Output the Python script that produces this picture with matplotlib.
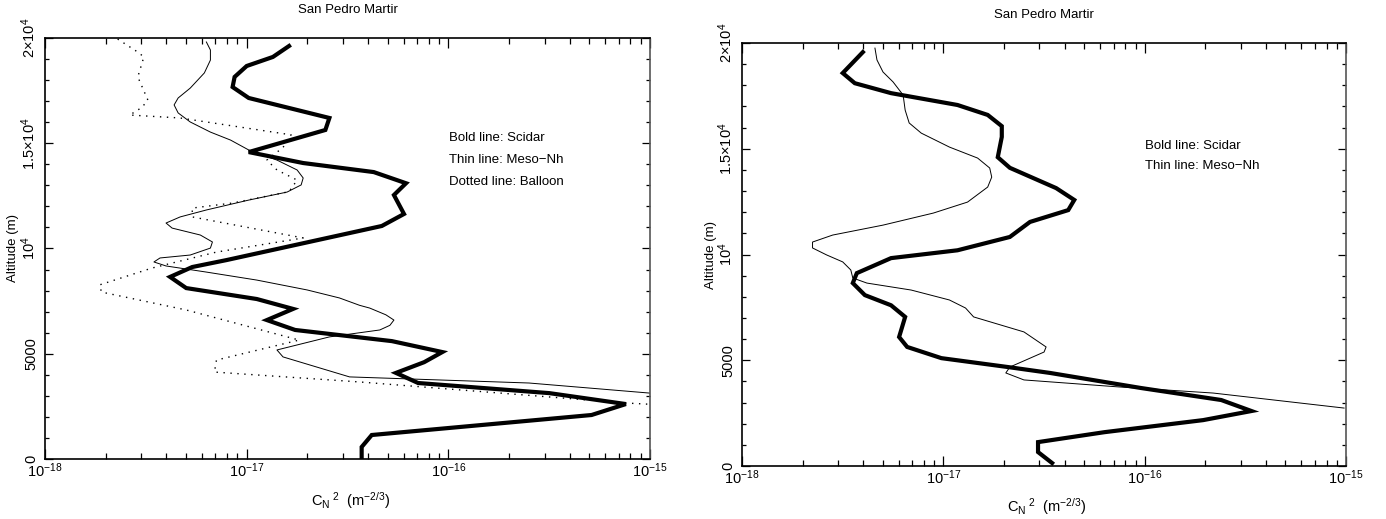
# Cn2 profiles over San Pedro Martir: Scidar vs Meso-Nh (vs balloon)
import numpy as np
import matplotlib
matplotlib.use('Agg')
import matplotlib.pyplot as plt
from matplotlib.ticker import FixedLocator, FixedFormatter, LogLocator, MultipleLocator, NullFormatter

plt.rcParams['font.family'] = 'Liberation Sans'
plt.rcParams['mathtext.fontset'] = 'custom'
plt.rcParams['mathtext.rm'] = 'Liberation Sans'
plt.rcParams['mathtext.it'] = 'Liberation Sans:italic'

# Left night: altitude (km) and log10(Cn2)
left_scidar_alt = [19.62, 19.1, 18.67, 18.15, 17.67, 17.15, 16.2, 15.63, 14.58, 14.06, 13.63, 13.1,
                   12.54, 11.64, 11.07, 9.45, 9.12, 8.65, 8.12, 7.6, 7.13, 6.6, 6.13, 5.6, 5.08,
                   4.6, 4.09, 3.61, 3.13, 2.61, 2.09, 1.14, 0.57, 0.05]
left_scidar_log = [-16.79, -16.87, -17.0, -17.06, -17.07, -16.99, -16.59, -16.61, -16.99, -16.72, -16.37, -16.21,
                   -16.27, -16.22, -16.33, -17.10, -17.27, -17.38, -17.30, -16.95, -16.77, -16.90, -16.76, -16.28, -16.03,
                   -16.12, -16.26, -16.15, -15.50, -15.12, -15.29, -16.38, -16.43, -16.43]

left_meso_alt = [19.81, 19.43, 18.95, 18.34, 17.62, 17.15, 16.82, 16.44, 16.01, 15.53, 15.15, 14.68, 14.2, 13.73,
                 13.35, 13.02, 12.68, 12.3, 11.83, 11.5, 11.21, 10.97, 10.64, 10.31, 10.02, 9.69, 9.55, 9.36,
                 9.17, 8.88, 8.5, 8.03, 7.65, 7.3, 7.17, 6.85, 6.6, 6.35, 6.13, 5.8, 5.18, 4.85, 3.9, 3.61, 3.13, 2.9]
left_meso_log = [-17.20, -17.18, -17.18, -17.21, -17.28, -17.34, -17.36, -17.34, -17.28, -17.18, -17.08, -16.99, -16.85, -16.75,
                 -16.72, -16.73, -16.80, -16.99, -17.20, -17.33, -17.40, -17.37, -17.23, -17.17, -17.18, -17.28, -17.43, -17.46,
                 -17.40, -17.20, -16.95, -16.70, -16.54, -16.44, -16.39, -16.31, -16.27, -16.29, -16.34, -16.59, -16.85, -16.82,
                 -16.49, -15.60, -15.0, -14.85]

left_balloon_alt = [19.95, 19.33, 19.1, 18.15, 17.05, 16.7, 16.34, 16.2, 15.4, 14.8, 14.2, 13.73, 13.25, 12.7,
                    12.16, 11.92, 11.5, 10.5, 9.83, 9.07, 8.27, 7.93, 7.08, 5.65, 4.7, 4.13, 3.66, 2.66, 2.55]
left_balloon_log = [-17.64, -17.54, -17.51, -17.54, -17.49, -17.52, -17.58, -17.33, -16.78, -16.82, -16.90, -16.85, -16.75, -16.79,
                    -17.07, -17.27, -17.27, -16.72, -17.15, -17.47, -17.73, -17.72, -17.30, -16.74, -17.15, -17.16, -16.44, -15.12, -14.9]

# Right night
right_scidar_alt = [19.57, 18.58, 18.1, 17.63, 17.07, 16.6, 16.07, 15.56, 14.6, 14.1, 13.14, 12.58, 12.1, 11.54,
                    10.83, 10.2, 9.83, 9.12, 8.65, 8.08, 7.6, 7.05, 6.1, 5.63, 5.1, 4.68, 4.4, 3.69, 3.12,
                    2.6, 2.17, 1.6, 1.13, 0.66, 0.14]
right_scidar_log = [-17.40, -17.50, -17.44, -17.26, -16.93, -16.78, -16.71, -16.71, -16.73, -16.67, -16.44, -16.35, -16.38, -16.57,
                    -16.67, -16.93, -17.26, -17.43, -17.45, -17.39, -17.26, -17.19, -17.22, -17.18, -17.01, -16.68, -16.47, -16.02, -15.62,
                    -15.47, -15.71, -16.20, -16.53, -16.53, -16.46]

right_meso_alt = [19.76, 19.2, 18.63, 18.16, 17.54, 16.83, 16.22, 15.74, 15.08, 14.56, 14.09, 13.66, 13.19, 12.48,
                  11.96, 11.39, 10.92, 10.59, 10.31, 9.98, 9.65, 9.27, 8.89, 8.65, 8.32, 7.85, 7.47, 7.05, 6.34,
                  5.63, 5.39, 4.68, 4.4, 4.07, 3.74, 3.45, 2.74]
right_meso_log = [-17.34, -17.33, -17.30, -17.25, -17.20, -17.19, -17.17, -17.11, -16.97, -16.83, -16.77, -16.76, -16.78, -16.88,
                  -17.05, -17.30, -17.55, -17.65, -17.65, -17.58, -17.50, -17.46, -17.45, -17.38, -17.16, -16.97, -16.89, -16.85, -16.60,
                  -16.49, -16.50, -16.67, -16.69, -16.60, -16.13, -15.66, -15.01]

x_ticks = [1e-18, 1e-17, 1e-16, 1e-15]
y_ticks = [0, 5000, 10000, 15000, 20000]
y_labels = ['0', '5000', r'$10^4$', r'$1.5{\times}10^4$', r'$2{\times}10^4$']
title = 'San Pedro Martir'


def setup(ax, xlab_y, ylab_x):
    ax.set_xscale('log')
    ax.set_xlim(1e-18, 1e-15)
    ax.set_ylim(0, 20000)
    ax.xaxis.set_major_locator(FixedLocator(x_ticks))
    ax.xaxis.set_minor_locator(LogLocator(base=10, subs=np.arange(2, 10), numticks=20))
    ax.xaxis.set_minor_formatter(NullFormatter())
    ax.yaxis.set_major_locator(FixedLocator(y_ticks))
    ax.yaxis.set_major_formatter(FixedFormatter(y_labels))
    ax.yaxis.set_minor_locator(MultipleLocator(1000))
    ax.tick_params(which='both', direction='in', top=True, right=True, labelsize=10.5, width=0.9)
    ax.tick_params(axis='x', which='major', length=7, pad=2)
    ax.tick_params(axis='x', which='minor', length=4)
    ax.tick_params(axis='y', which='major', length=6, pad=5)
    ax.tick_params(axis='y', which='minor', length=3)
    for lab in ax.get_yticklabels():
        lab.set_rotation(90)
        lab.set_va('center')
    for s in ax.spines.values():
        s.set_linewidth(1.2)
    ax.spines['right'].set_color('#555555')
    ax.set_xlabel(r'C$_{\mathrm{N}}$$^{\ 2}$  (m$^{-2/3}$)', fontsize=10.5)
    ax.xaxis.set_label_coords(0.505, xlab_y)
    ax.set_ylabel('Altitude (m)', fontsize=9.5)
    ax.yaxis.set_label_coords(ylab_x, 0.5)
    ax.set_title(title, fontsize=9.5, pad=18)


fig = plt.figure(figsize=(13.86, 5.19), dpi=100)

ax1 = fig.add_axes([0.0325, 0.1156, 0.4365, 0.8112])
ax1.plot(10 ** np.array(left_scidar_log), np.array(left_scidar_alt) * 1000, color='black', lw=3.0,
         solid_joinstyle='miter')
ax1.plot(10 ** np.array(left_meso_log), np.array(left_meso_alt) * 1000, color='black', lw=0.7)
ax1.plot(10 ** np.array(left_balloon_log), np.array(left_balloon_alt) * 1000, color='black', lw=1.0,
         linestyle=(0, (1, 4)))
setup(ax1, -0.075, -0.043)
ax1.text(0.668, 0.762, 'Bold line: Scidar', transform=ax1.transAxes, fontsize=9.5, va='center')
ax1.text(0.668, 0.710, 'Thin line: Meso\u2212Nh', transform=ax1.transAxes, fontsize=9.5, va='center')
ax1.text(0.668, 0.658, 'Dotted line: Balloon', transform=ax1.transAxes, fontsize=9.5, va='center')

ax2 = fig.add_axes([0.5354, 0.1021, 0.4358, 0.815])
ax2.plot(10 ** np.array(right_scidar_log), np.array(right_scidar_alt) * 1000, color='black', lw=3.0,
         solid_joinstyle='miter')
ax2.plot(10 ** np.array(right_meso_log), np.array(right_meso_alt) * 1000, color='black', lw=0.7)
setup(ax2, -0.072, -0.041)
ax2.text(0.667, 0.757, 'Bold line: Scidar', transform=ax2.transAxes, fontsize=9.5, va='center')
ax2.text(0.667, 0.709, 'Thin line: Meso\u2212Nh', transform=ax2.transAxes, fontsize=9.5, va='center')

fig.savefig('out.png', dpi=100)
